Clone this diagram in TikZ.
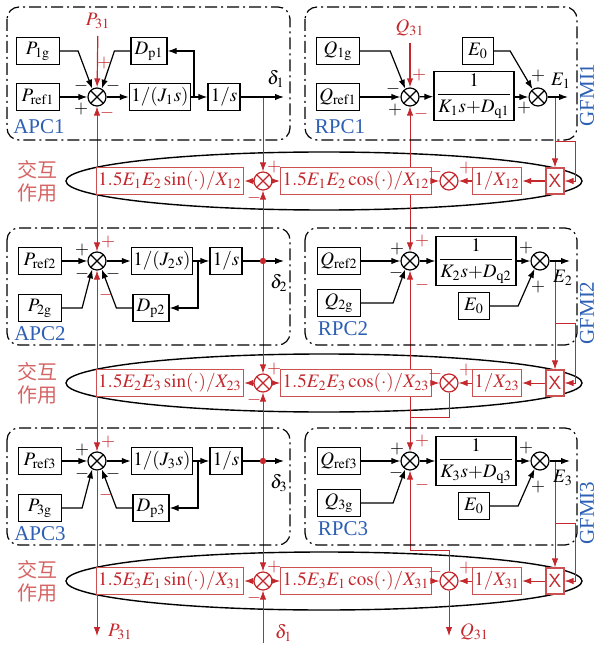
\documentclass[tikz,border=0pt]{standalone}
\usepackage{amsmath}
\usepackage{mathptmx}
\usepackage[no-math]{fontspec}
\setmainfont{Liberation Serif}
\newfontfamily\cjk{Noto Sans CJK SC}
\usepackage{tikz}
\usetikzlibrary{arrows.meta,calc}
\definecolor{myred}{RGB}{196,40,45}
\definecolor{boxred}{RGB}{204,80,80}
\definecolor{myblue}{RGB}{45,95,180}
\definecolor{cjkred}{RGB}{212,100,100}
\tikzstyle{blk} = [draw, rectangle, fill=white, line width=0.6pt, minimum height=13.5pt, inner sep=1pt]
\tikzstyle{rblk} = [blk, draw=boxred, text=myred]
\tikzstyle{grp} = [draw, rounded corners=6pt, line width=0.6pt, dash pattern=on 6pt off 2pt on 1pt off 2pt]
\tikzstyle{sg} = [inner sep=0pt, font=\fontsize{9}{9}\selectfont]
\tikzstyle{rsg} = [sg, text=myred]
\tikzstyle{ttl} = [text=myblue, inner sep=0pt, font=\fontsize{10.5}{12}\selectfont]
\tikzstyle{jh} = [text=cjkred, inner sep=0pt, font=\cjk\fontsize{10}{11}\selectfont]
\tikzset{
	sumb/.style={draw=#1, circle, fill=white, line width=0.6pt, minimum size=9pt, inner sep=0pt,
		path picture={\draw[#1] (path picture bounding box.north west) -- (path picture bounding box.south east)
			(path picture bounding box.north east) -- (path picture bounding box.south west);}},
	sumb/.default=black,
	>={Latex[length=4.5pt,width=3.2pt]}
}
\pgfdeclarelayer{bg}
\pgfsetlayers{bg,main}

\begin{document}
\begin{tikzpicture}[x=0.5pt, y=-0.5pt, line width=0.6pt, font=\fontsize{9.5}{11}\selectfont]
	\useasboundingbox (0,0) rectangle (598,646);
	% GFMI1 frames and titles
	\draw[grp] (7,7) rectangle (290,140);
	\draw[grp] (305,7) rectangle (577,140);
	\node[ttl] (apc1) at (39,127) {APC1};
	\node[ttl] (rpc1) at (340,127) {RPC1};
	\node[ttl, rotate=90] (gfm1) at (587,95) {GFMI1};
	% APC1
	\node[blk, minimum width=21.5pt] (p1g) at (38,51) {$P_{\mathrm{1g}}$};
	\node[blk, minimum width=21.5pt] (pref1) at (38,97) {$P_{\mathrm{ref1}}$};
	\node[sumb] (s1) at (97,97) {};
	\node[blk, minimum width=18pt] (dp1) at (149,51) {$D_{\mathrm{p1}}$};
	\node[blk, minimum width=28.5pt] (j1) at (160,97) {$1/(J_1s)$};
	\node[blk, minimum width=16pt] (i1) at (224,97) {$1/s$};
	\coordinate (b1) at (194,97);
	\coordinate (d1) at (284,97);
	\node (del1) at (276,79) {$\delta_1$};
	\node[text=myred] (p31t) at (98,21) {$P_{31}$};
	\draw[->] (pref1) -- (s1);
	\draw[->] (p1g.east) -- ++(18,0) -- (s1.120);
	\draw[->] (dp1.west) -- ++(-16,0) -- (s1.60);
	\draw[->] (s1) -- (j1);
	\draw[->] (j1) -- (i1);
	\draw[->] (b1) |- (dp1.east);
	\draw[->] (i1) -- (d1);
	\draw[->, myred] (p31t) -- (s1);
	\node[sg] (s1n1) at (81,86) {$-$};
	\node[sg] (s1n2) at (113,86) {$-$};
	\node[sg] (s1n3) at (81,109) {$+$};
	\node[rsg] (s1n4) at (104,63) {$+$};
	\node[rsg] (s1n5) at (107,113) {$-$};
	% RPC1
	\node[blk, minimum width=21.5pt] (q1g) at (338,51) {$Q_{\mathrm{1g}}$};
	\node[blk, minimum width=21.5pt] (qref1) at (338,97) {$Q_{\mathrm{ref1}}$};
	\node[sumb] (r1) at (410,97) {};
	\node[blk, minimum width=40pt, minimum height=22pt] (k1) at (474,96) {$\dfrac{1}{K_1s{+}D_{\mathrm{q}1}}$};
	\node[blk, minimum width=15.5pt] (e01) at (478,51) {$E_0$};
	\node[sumb] (rb1) at (538,97) {};
	\coordinate (eo1) at (568,97);
	\node (el1) at (561,81) {$E_1$};
	\node[text=myred] (q31t) at (410,28) {$Q_{31}$};
	\draw[->] (qref1) -- (r1);
	\draw[->] (q1g.east) -- ++(30,0) -- (r1.120);
	\draw[->] (r1) -- (k1);
	\draw[->] (k1.east |- rb1) -- (rb1);
	\draw[->] (e01.east) -- ++(16,0) -- (rb1.125);
	\draw[->] (rb1) -- (eo1);
	\draw[->, myred] (q31t) -- (r1);
	\node[sg] (r1n1) at (393,89) {$-$};
	\node[sg] (r1n2) at (395,110) {$+$};
	\node[rsg] (r1n3) at (419,75) {$+$};
	\node[rsg] (r1n4) at (421,114) {$-$};
	\node[sg] (rb1n1) at (538,76) {$+$};
	\node[sg] (rb1n2) at (524,108) {$+$};
	% GFMI2, GFMI3
	\foreach \n/\yy in {2/261,3/461}{
		\draw[grp] (7,\yy-33) rectangle (290,\yy+84);
		\draw[grp] (305,\yy-33) rectangle (577,\yy+84);
		\node[ttl] (apc\n) at (40,\yy+73) {APC\n};
		\node[ttl] (rpc\n) at (343,\yy+68) {RPC\n};
		\node[ttl, rotate=90] (gfm\n) at (587,\yy+52) {GFMI\n};
		% APC
		\node[blk, minimum width=21.5pt] (pref\n) at (40,\yy) {$P_{\mathrm{ref\n}}$};
		\node[blk, minimum width=21.5pt] (p\n g) at (40,\yy+47) {$P_{\mathrm{\n g}}$};
		\node[sumb] (s\n) at (97,\yy) {};
		\node[blk, minimum width=28.5pt] (j\n) at (162,\yy) {$1/(J_\n s)$};
		\node[blk, minimum width=16pt] (i\n) at (226,\yy) {$1/s$};
		\node[blk, minimum width=18pt] (dp\n) at (151,\yy+47) {$D_{\mathrm{p\n}}$};
		\coordinate (b\n) at (198,\yy);
		\coordinate (t\n) at (263,\yy);
		\coordinate (d\n) at (284,\yy);
		\node (del\n) at (279,\yy+22) {$\delta_\n$};
		\draw[->] (pref\n) -- (s\n);
		\draw[->] (s\n) -- (j\n);
		\draw[->] (j\n) -- (i\n);
		\draw[->] (i\n) -- (d\n);
		\draw[->] (b\n) |- (dp\n.east);
		\draw[->] (dp\n.west) -- ++(-16,0) -- (s\n.300);
		\draw[->] (p\n g.east) -- ++(20,0) -- (s\n.240);
		\node[sg] (s\n n1) at (82,\yy-11) {$+$};
		\node[sg] (s\n n2) at (82,\yy+13) {$-$};
		\node[sg] (s\n n3) at (113,\yy+13) {$-$};
		\node[rsg] (s\n n4) at (108,\yy-19) {$+$};
		\node[rsg] (s\n n5) at (106,\yy+34) {$-$};
		% RPC
		\node[blk, minimum width=21.5pt] (qref\n) at (339,\yy) {$Q_{\mathrm{ref\n}}$};
		\node[blk, minimum width=21.5pt] (q\n g) at (339,\yy+42) {$Q_{\mathrm{\n g}}$};
		\node[sumb] (r\n) at (410,\yy) {};
		\node[blk, minimum width=40pt, minimum height=24pt] (k\n) at (476,\yy) {$\dfrac{1}{K_\n s{+}D_{\mathrm{q}\n}}$};
		\node[blk, minimum width=15.5pt] (e0\n) at (474,\yy+45) {$E_0$};
		\node[sumb] (rb\n) at (540,\yy) {};
		\coordinate (eo\n) at (570,\yy);
		\node (el\n) at (563,\yy+17) {$E_\n$};
		\draw[->] (qref\n) -- (r\n);
		\draw[->] (r\n) -- (k\n);
		\draw[->] (k\n) -- (rb\n);
		\draw[->] (rb\n) -- (eo\n);
		\draw[->] (q\n g.east) -- ++(32,0) -- (r\n.240);
		\draw[->] (e0\n.east) -- ++(28,0) -- (rb\n.235);
		\node[sg] (r\n n1) at (397,\yy-12) {$+$};
		\node[sg] (r\n n2) at (396,\yy+12) {$-$};
		\node[rsg] (r\n n3) at (422,\yy-20) {$+$};
		\node[rsg] (r\n n4) at (422,\yy+24) {$-$};
		\node[sg] (rb\n n1) at (526,\yy-13) {$+$};
		\node[sg] (rb\n n2) at (538,\yy+26) {$+$};
	}
	% interaction rows
	\foreach \n/\yy/\ia/\ib in {1/181/1/2, 2/383/2/3, 3/581/3/1}{
		\node[jh] (jh\n) at (38,\yy-11) {交互};
		\node[jh] (zy\n) at (38,\yy+12) {作用};
		\node[rblk, minimum width=65pt] (sn\n) at (170,\yy) {$1.5E_{\ia}E_{\ib}\sin(\cdot)/X_{\ia\ib}$};
		\node[sumb=myred] (sa\n) at (263,\yy) {};
		\node[rblk, minimum width=66pt] (cs\n) at (356,\yy) {$1.5E_{\ia}E_{\ib}\cos(\cdot)/X_{\ia\ib}$};
		\node[sumb=myred] (sb\n) at (449,\yy) {};
		\node[rblk, minimum width=23pt] (iv\n) at (497,\yy) {$1/X_{\ia\ib}$};
		\node[rblk, minimum width=9pt, minimum height=13pt, inner sep=0.5pt] (ml\n) at (555,\yy) {\sffamily X};
		\draw[->, myred] (sa\n) -- (sn\n);
		\draw[->, myred] (sa\n) -- (cs\n);
		\draw[->, myred] (cs\n) -- (sb\n);
		\draw[->, myred] (iv\n) -- (sb\n);
		\draw[->, myred] (ml\n) -- (iv\n);
		\node[rsg] (sa\n n1) at (274,\yy-14) {$+$};
		\node[rsg] (sa\n n2) at (254,\yy+17) {$-$};
		\node[rsg] (sb\n n1) at (435,\yy-9) {$-$};
		\node[rsg] (sb\n n2) at (466,\yy-13) {$+$};
		\begin{pgfonlayer}{bg}
			\draw[line width=0.7pt] (324,\yy) ellipse [x radius=258, y radius=29];
			\draw[myred] (sn\n.west) -- (sn\n.west -| s1);
		\end{pgfonlayer}
	}
	% outputs at the bottom
	\coordinate (p31e) at (97,636);
	\coordinate (d1b) at (263,643);
	\coordinate (q31e) at (449,636);
	\node[text=myred, anchor=west] (p31b) at (101,632) {$P_{31}$};
	\node[text=myred, anchor=west] (del1b) at (268,633) {$\delta_1$};
	\node[text=myred, anchor=west] (q31b) at (453,632) {$Q_{31}$};
	\coordinate (t1) at (263,97);
	\coordinate (j2q) at (410,417);
	\coordinate (j3q) at (410,550);
	\coordinate (eb1) at (555,141);
	\coordinate (eb2) at (555,323);
	\coordinate (eb3) at (555,523);
	\begin{pgfonlayer}{bg}
		% power lines
		\draw[<->, myred] (s1) -- (s2);
		\draw[<->, myred] (s2) -- (s3);
		\draw[->, myred] (s3) -- (p31e);
		% angle lines
		\draw[->, myred] (t1) -- (sa1);
		\draw[->, myred] (t2) -- (sa1);
		\draw[->, myred] (t2) -- (sa2);
		\draw[->, myred] (t3) -- (sa2);
		\draw[->, myred] (t3) -- (sa3);
		\draw[->, myred] (d1b) -- (sa3);
		% reactive lines
		\draw[<->, myred] (r1) -- (r2);
		\draw[<->, myred] (r2) -- (r3);
		\draw[myred] (sb2) |- (j2q);
		\draw[->, myred] (j3q) -- (r3);
		\draw[myred] (sb3) |- (j3q);
		\draw[->, myred] (sb3) -- (q31e);
		% voltage lines
		\foreach \n in {1,2,3}{
			\draw[->, myred] (eo\n -| ml\n) -- (ml\n);
			\draw[->, myred] (eb\n) -- ++(20,0) |- (ml\n.east);
		}
	\end{pgfonlayer}
	\fill[myred] (t2) circle (1.6pt);
	\fill[myred] (t3) circle (1.6pt);
\end{tikzpicture}
\end{document}
